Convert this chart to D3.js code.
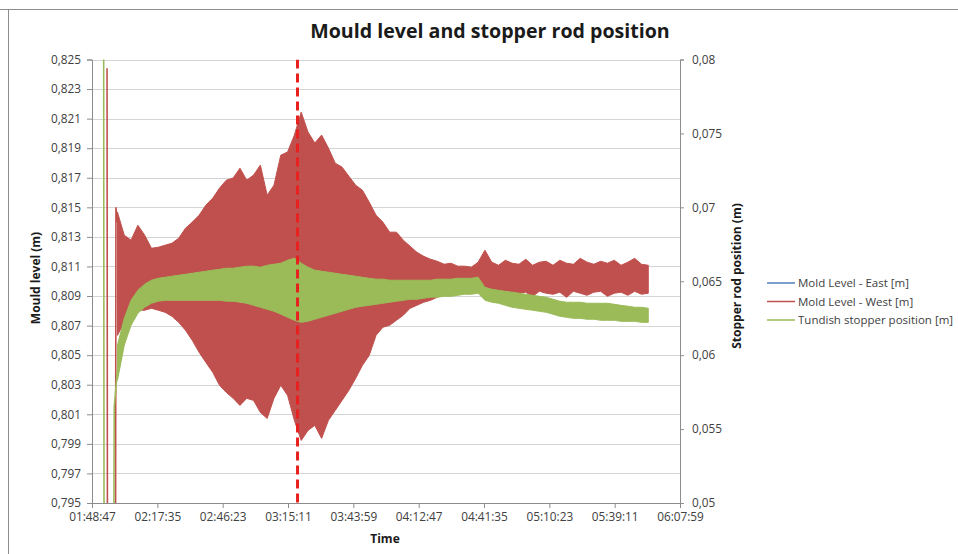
<!DOCTYPE html>
<html><head><meta charset="utf-8">
<script src="https://cdn.jsdelivr.net/npm/d3@7/dist/d3.min.js"></script>
<style>
html,body{margin:0;padding:0;background:#fff;}
svg{display:block;font-family:"Open Sans",sans-serif;}
</style></head>
<body><svg id="c" width="958" height="554"></svg>
<script>
// ---------- DATA ----------
const xTickLabels = ["01:48:47","02:17:35","02:46:23","03:15:11","03:43:59","04:12:47","04:41:35","05:10:23","05:39:11","06:07:59"];
const leftTicks = [0.795,0.797,0.799,0.801,0.803,0.805,0.807,0.809,0.811,0.813,0.815,0.817,0.819,0.821,0.823,0.825];
const rightTicks = [0.05,0.055,0.06,0.065,0.07,0.075,0.08];
const legendNames = ["Mold Level - East [m]","Mold Level - West [m]","Tundish stopper position [m]"];
const markerTime = "03:19:23";

// sample times (envelope of the fast oscillation)
const sampleTimes = ["02:00","02:03","02:06","02:09","02:12","02:15","02:18","02:21","02:24","02:27",
"02:30","02:33","02:36","02:39","02:42","02:45","02:48","02:51","02:54","02:57",
"03:00","03:03","03:06","03:09","03:12","03:15","03:18","03:21","03:24","03:27",
"03:30","03:33","03:36","03:39","03:42","03:45","03:48","03:51","03:54","03:57",
"04:00","04:03","04:06","04:09","04:12","04:15","04:18","04:21","04:24","04:27",
"04:30","04:33","04:36","04:39","04:42","04:45","04:48","04:51","04:54","04:57",
"05:00","05:03","05:06","05:09","05:12","05:15","05:18","05:21","05:24","05:27",
"05:30","05:33","05:36","05:39","05:42","05:45","05:48","05:51","05:54"];

// Mold level West [m] - upper / lower envelope
const westHigh = [0.81467,0.81312,0.81278,0.81379,0.81312,0.81223,0.81230,0.81244,0.81257,0.81291,
0.81359,0.81400,0.81447,0.81515,0.81562,0.81630,0.81684,0.81698,0.81765,0.81684,
0.81718,0.81786,0.81582,0.81650,0.81853,0.81874,0.81989,0.82144,0.82009,0.81935,
0.81989,0.81901,0.81799,0.81772,0.81711,0.81650,0.81616,0.81535,0.81447,0.81400,
0.81332,0.81332,0.81278,0.81237,0.81196,0.81169,0.81149,0.81135,0.81115,0.81122,
0.81102,0.81102,0.81095,0.81129,0.81210,0.81129,0.81108,0.81142,0.81122,0.81115,
0.81149,0.81108,0.81129,0.81135,0.81108,0.81142,0.81122,0.81115,0.81155,0.81129,
0.81115,0.81135,0.81122,0.81142,0.81108,0.81129,0.81155,0.81115,0.81108];
const westLow = [0.80634,0.80722,0.80790,0.80804,0.80804,0.80817,0.80804,0.80790,0.80763,0.80722,
0.80668,0.80600,0.80519,0.80451,0.80384,0.80296,0.80248,0.80208,0.80160,0.80208,
0.80194,0.80113,0.80072,0.80208,0.80296,0.80228,0.80059,0.79923,0.79991,0.80025,
0.79937,0.80059,0.80126,0.80194,0.80262,0.80343,0.80431,0.80499,0.80634,0.80689,
0.80702,0.80736,0.80770,0.80817,0.80837,0.80858,0.80871,0.80892,0.80912,0.80919,
0.80926,0.80926,0.80926,0.80932,0.80905,0.80926,0.80912,0.80932,0.80905,0.80919,
0.80926,0.80898,0.80932,0.80919,0.80912,0.80926,0.80891,0.80932,0.80919,0.80905,
0.80926,0.80932,0.80898,0.80919,0.80926,0.80905,0.80932,0.80912,0.80919];

// Tundish stopper position [m] - upper / lower envelope
const stopperHigh = [0.06067,0.06249,0.06371,0.06439,0.06480,0.06507,0.06520,0.06527,0.06534,0.06541,
0.06547,0.06554,0.06561,0.06568,0.06575,0.06581,0.06588,0.06588,0.06595,0.06602,
0.06602,0.06595,0.06608,0.06615,0.06622,0.06642,0.06656,0.06622,0.06595,0.06575,
0.06568,0.06561,0.06554,0.06547,0.06541,0.06534,0.06527,0.06520,0.06514,0.06514,
0.06507,0.06507,0.06507,0.06507,0.06507,0.06507,0.06507,0.06514,0.06514,0.06514,
0.06520,0.06520,0.06520,0.06527,0.06459,0.06446,0.06439,0.06432,0.06426,0.06419,
0.06412,0.06405,0.06398,0.06392,0.06378,0.06365,0.06358,0.06358,0.06358,0.06351,
0.06351,0.06351,0.06351,0.06344,0.06337,0.06331,0.06324,0.06324,0.06317];
const stopperLow = [0.05830,0.06067,0.06202,0.06283,0.06324,0.06351,0.06365,0.06371,0.06371,0.06371,
0.06371,0.06371,0.06371,0.06371,0.06371,0.06371,0.06365,0.06365,0.06358,0.06351,
0.06337,0.06324,0.06310,0.06297,0.06277,0.06256,0.06236,0.06222,0.06229,0.06243,
0.06256,0.06270,0.06283,0.06297,0.06310,0.06324,0.06331,0.06337,0.06344,0.06351,
0.06358,0.06365,0.06371,0.06378,0.06378,0.06385,0.06392,0.06392,0.06398,0.06398,
0.06405,0.06412,0.06412,0.06419,0.06371,0.06358,0.06351,0.06337,0.06324,0.06317,
0.06310,0.06304,0.06297,0.06290,0.06277,0.06263,0.06256,0.06249,0.06249,0.06243,
0.06243,0.06236,0.06236,0.06236,0.06229,0.06229,0.06229,0.06222,0.06222];

// start-up transient (values beyond the axes are clipped)
const westStartTimes = ["01:55:25","01:55:35","01:59:10","01:59:20","02:00:00"];
const westStartValues = [0.8244,0.7930,0.7930,0.8150,0.8140];
const stopperStartTimes = ["01:53:55","01:54:05","01:58:25","01:58:35","02:00:00"];
const stopperStartValues = [0.0820,0.0490,0.0490,0.0565,0.0590];

// ---------- CHART ----------
const colors = {east:"#4F81BD", west:"#C0504D", stopper:"#9BBB59"};
const svg = d3.select("#c");
const W = 958, H = 554;
const m = {left:92, right:680, top:59.5, bottom:503};
const parseHMS = d3.timeParse("%H:%M:%S");
const parseHM = d3.timeParse("%H:%M");
const x = d3.scaleTime().domain([parseHMS(xTickLabels[0]), parseHMS(xTickLabels[xTickLabels.length-1])]).range([m.left, m.right]);
const yL = d3.scaleLinear().domain([0.795,0.825]).range([m.bottom, m.top]);
const yR = d3.scaleLinear().domain([0.05,0.08]).range([m.bottom, m.top]);
const comma = v => String(v).replace(".", ",");

// frame
svg.append("line").attr("x1",0).attr("x2",W).attr("y1",9.5).attr("y2",9.5).attr("stroke","#8c8c8c");
svg.append("line").attr("x1",8.5).attr("x2",8.5).attr("y1",9.5).attr("y2",H).attr("stroke","#8c8c8c");

// grid
svg.append("g").selectAll("line").data(leftTicks).join("line")
  .attr("x1",m.left).attr("x2",m.right)
  .attr("y1",d=>Math.round(yL(d))+0.5).attr("y2",d=>Math.round(yL(d))+0.5)
  .attr("stroke","#d4d4d4").attr("stroke-width",1);

svg.append("clipPath").attr("id","clip").append("rect")
  .attr("x",m.left).attr("y",m.top).attr("width",m.right-m.left).attr("height",m.bottom-m.top);
const plot = svg.append("g").attr("clip-path","url(#clip)");

const times = sampleTimes.map(parseHM);
const westArea = d3.area().x((d,i)=>x(times[i])).y0((d,i)=>yL(westLow[i])).y1((d,i)=>yL(westHigh[i]));
const stopArea = d3.area().x((d,i)=>x(times[i])).y0((d,i)=>yR(stopperLow[i])).y1((d,i)=>yR(stopperHigh[i]));

plot.append("path").datum(westStartTimes).attr("fill","none").attr("stroke",colors.west).attr("stroke-width",1.6)
  .attr("d", d3.line().x(d=>x(parseHMS(d))).y((d,i)=>yL(westStartValues[i])));
plot.append("path").datum(sampleTimes).attr("fill",colors.west).attr("stroke",colors.west).attr("stroke-width",1)
  .attr("d", westArea);
plot.append("path").datum(stopperStartTimes).attr("fill","none").attr("stroke",colors.stopper).attr("stroke-width",1.6)
  .attr("d", d3.line().x(d=>x(parseHMS(d))).y((d,i)=>yR(stopperStartValues[i])));
plot.append("path").datum(sampleTimes).attr("fill",colors.stopper).attr("stroke",colors.stopper).attr("stroke-width",1)
  .attr("d", stopArea);

// marker
plot.append("line").attr("x1",x(parseHMS(markerTime))).attr("x2",x(parseHMS(markerTime)))
  .attr("y1",m.top).attr("y2",m.bottom).attr("stroke","#E8201E").attr("stroke-width",3).attr("stroke-dasharray","9,5");

// axes
const axisColor = "#8c8c8c", textColor = "#404040";
const gL = svg.append("g").attr("transform",`translate(${m.left},0)`)
  .call(d3.axisLeft(yL).tickValues(leftTicks).tickFormat(comma).tickSize(5).tickPadding(6));
const gR = svg.append("g").attr("transform",`translate(${m.right},0)`)
  .call(d3.axisRight(yR).tickValues(rightTicks).tickFormat(comma).tickSize(4).tickPadding(8));
const gX = svg.append("g").attr("transform",`translate(0,${m.bottom})`)
  .call(d3.axisBottom(x).tickValues(xTickLabels.map(parseHMS)).tickFormat(d3.timeFormat("%H:%M:%S")).tickSize(5).tickPadding(5));
[gL,gR,gX].forEach(g=>{
  g.selectAll(".domain").attr("stroke",axisColor);
  g.selectAll(".tick line").attr("stroke",axisColor);
  g.selectAll("text").attr("fill",textColor).style("font-size","11.8px").style("font-family","'Open Sans',sans-serif");
});

// titles
svg.append("text").attr("x",490).attr("y",38).attr("text-anchor","middle")
  .style("font-size","19.6px").style("font-weight","bold").attr("fill","#1a1a1a")
  .text("Mould level and stopper rod position");
svg.append("text").attr("x",385).attr("y",543).attr("text-anchor","middle")
  .style("font-size","12px").style("font-weight","bold").attr("fill","#1a1a1a").text("Time");
svg.append("text").attr("transform","translate(40,278) rotate(-90)").attr("text-anchor","middle")
  .style("font-size","12px").style("font-weight","bold").attr("fill","#1a1a1a").text("Mould level (m)");
svg.append("text").attr("transform","translate(741,276) rotate(-90)").attr("text-anchor","middle")
  .style("font-size","12px").style("font-weight","bold").attr("fill","#1a1a1a").text("Stopper rod position (m)");

// legend
const lg = svg.append("g");
const legColors = [colors.east, colors.west, colors.stopper];
legendNames.forEach((n,i)=>{
  const yy = 283 + i*18.5;
  lg.append("line").attr("x1",767).attr("x2",795).attr("y1",yy).attr("y2",yy).attr("stroke",legColors[i]).attr("stroke-width",1.5);
  lg.append("text").attr("x",798).attr("y",yy+4).style("font-size","11.5px").attr("fill",textColor).text(n);
});
</script></body></html>
